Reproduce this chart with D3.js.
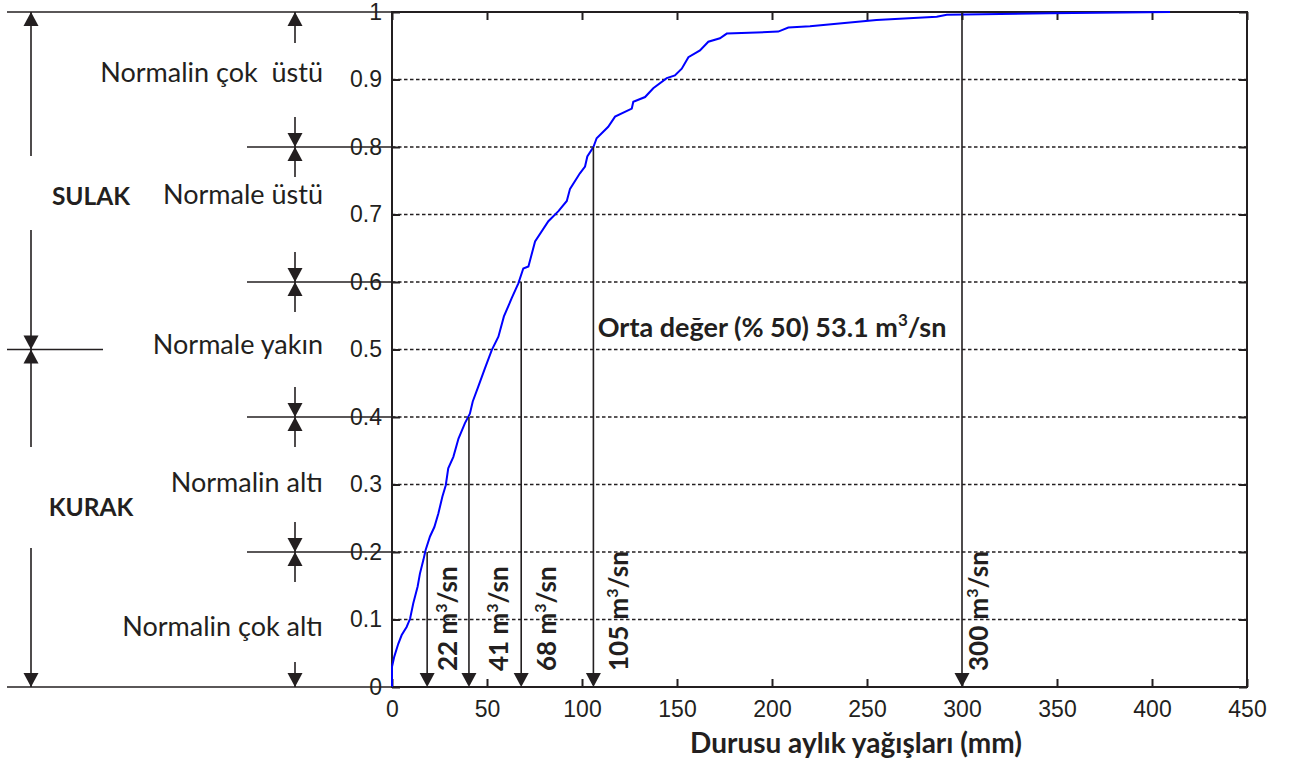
<!DOCTYPE html>
<html>
<head>
<meta charset="utf-8">
<script src="https://cdn.jsdelivr.net/npm/d3@7"></script>
<style>
  body { margin: 0; background: #fff; }
  text { fill: #231f20; }
</style>
</head>
<body>
<svg id="chart" width="1290" height="766"></svg>
<script>
const rainMm = [0, 0, 0, 1.2, 3.3, 5.1, 7.7, 9.5, 11.2, 13.5, 14.7, 16.5, 17.7, 20, 22.3, 24.4,
  26.5, 28.3, 29.6, 32.3, 35, 38.4, 41, 42.5, 45.4, 48.9, 52.5, 56, 58.9, 63, 66.5, 69.1, 71.8,
  75.3, 82.3, 87.6, 92, 93.7, 98.9, 101.6, 102.8, 106, 107.7, 113.8, 117.4, 126.2, 127, 133.2,
  137.5, 144.6, 148.9, 152.5, 156, 162.1, 166.5, 172.6, 176.2, 203.3, 208.6, 220, 255, 286.7,
  292, 346, 409.5];
const cumProb = [0, 0.013, 0.03, 0.045, 0.064, 0.077, 0.089, 0.101, 0.124, 0.149, 0.168, 0.188,
  0.203, 0.223, 0.237, 0.257, 0.282, 0.299, 0.324, 0.341, 0.368, 0.391, 0.405, 0.423, 0.445,
  0.472, 0.499, 0.519, 0.549, 0.576, 0.598, 0.62, 0.623, 0.66, 0.69, 0.705, 0.72, 0.738, 0.761,
  0.771, 0.786, 0.8, 0.813, 0.83, 0.845, 0.857, 0.867, 0.874, 0.887, 0.902, 0.906, 0.916, 0.933,
  0.943, 0.956, 0.961, 0.968, 0.971, 0.977, 0.979, 0.988, 0.993, 0.996, 0.998, 1.0];

const xTicks = [0, 50, 100, 150, 200, 250, 300, 350, 400, 450];
const yTicks = [0, 0.1, 0.2, 0.3, 0.4, 0.5, 0.6, 0.7, 0.8, 0.9, 1];
const gridLevels = [0.1, 0.2, 0.3, 0.4, 0.5, 0.6, 0.7, 0.8, 0.9];

// drop lines from the curve to the x axis
const markerLevels = [0.2, 0.4, 0.6, 0.8, 1.0];
const markerMm = [18.5, 40.5, 68, 106, 300];
const markerLabels = ["22", "41", "68", "105", "300"];
const markerLabelMm = [34, 61, 86.5, 124, 313.5];

// class bands on the left
const bandNames = ["Normalin çok  üstü", "Normale üstü", "Normale yakın", "Normalin altı", "Normalin çok altı"];
const bandLabelAt = [0.91, 0.73, 0.508, 0.304, 0.09];
const bandBounds = [0.8, 0.6, 0.4, 0.2];
const groupNames = ["SULAK", "KURAK"];
const groupLabelAt = [0.727, 0.267];

const ink = "#231f20";
const calibriLike = "Lato, 'Open Sans', sans-serif";
const arialLike = "'Liberation Sans', Arial, sans-serif";

const svg = d3.select("#chart");
const plotLeft = 392, plotRight = 1247, plotTop = 12, plotBottom = 687;

const x = d3.scaleLinear().domain([0, 450]).range([plotLeft, plotRight]);
const y = d3.scaleLinear().domain([0, 1]).range([plotBottom, plotTop]);

function arrowHead(g, px, py, dir) {
  // tip at (px, py), dir = 1 points down, -1 points up
  const w = 7.5, h = 14;
  g.append("path")
    .attr("d", `M${px},${py}L${px - w},${py - dir * h}L${px + w},${py - dir * h}Z`)
    .attr("fill", ink);
}

function vline(g, px, y1, y2) {
  g.append("line")
    .attr("x1", px).attr("x2", px)
    .attr("y1", y1).attr("y2", y2)
    .attr("stroke", ink).attr("stroke-width", 1.6);
}

function hline(g, x1, x2, py) {
  g.append("line")
    .attr("x1", x1).attr("x2", x2)
    .attr("y1", py).attr("y2", py)
    .attr("stroke", ink).attr("stroke-width", 1.6);
}

// dotted grid
svg.append("g")
  .selectAll("line")
  .data(gridLevels)
  .enter()
  .append("line")
  .attr("x1", plotLeft).attr("x2", plotRight)
  .attr("y1", d => y(d)).attr("y2", d => y(d))
  .attr("stroke", ink)
  .attr("stroke-width", 1.5)
  .attr("stroke-dasharray", "3.5,2.5");

// axes with inward ticks
const xAxis = svg.append("g")
  .attr("transform", `translate(0,${plotBottom})`)
  .call(d3.axisBottom(x).tickValues(xTicks).tickSizeInner(-8).tickSizeOuter(0).tickPadding(14));
const yAxis = svg.append("g")
  .attr("transform", `translate(${plotLeft},0)`)
  .call(d3.axisLeft(y).tickValues(yTicks).tickFormat(d3.format("")).tickSizeInner(-8).tickSizeOuter(0).tickPadding(10));
svg.append("g")
  .attr("transform", `translate(0,${plotTop})`)
  .call(d3.axisTop(x).tickValues(xTicks).tickSizeInner(-8).tickSizeOuter(0).tickFormat(""));
svg.append("g")
  .attr("transform", `translate(${plotRight},0)`)
  .call(d3.axisRight(y).tickValues(yTicks).tickSizeInner(-8).tickSizeOuter(0).tickFormat(""));

svg.selectAll(".domain").remove();
svg.selectAll(".tick line").attr("stroke", ink).attr("stroke-width", 2);
[xAxis, yAxis].forEach(a => a.selectAll("text")
  .attr("font-family", arialLike)
  .attr("font-size", 23)
  .attr("fill", ink));

svg.append("rect")
  .attr("x", plotLeft).attr("y", plotTop)
  .attr("width", plotRight - plotLeft).attr("height", plotBottom - plotTop)
  .attr("fill", "none")
  .attr("stroke", ink)
  .attr("stroke-width", 2);

// the distribution curve
const points = rainMm.map((d, i) => [d, cumProb[i]]);
svg.append("path")
  .datum(points)
  .attr("fill", "none")
  .attr("stroke", "#0000ff")
  .attr("stroke-width", 2)
  .attr("d", d3.line().x(d => x(d[0])).y(d => y(d[1])));

// drop lines with arrows and rotated labels
const drops = svg.append("g");
markerMm.forEach((m, i) => {
  vline(drops, x(m), y(markerLevels[i]), plotBottom - 2);
  arrowHead(drops, x(m), plotBottom, 1);
  const t = drops.append("text")
    .attr("transform", `translate(${x(markerLabelMm[i])},${plotBottom - 16}) rotate(-90)`)
    .attr("font-family", calibriLike)
    .attr("font-weight", "bold")
    .attr("font-size", 26);
  t.append("tspan").text(markerLabels[i] + " m");
  t.append("tspan").attr("dy", -10).attr("font-size", 16).text("3");
  t.append("tspan").attr("dy", 10).text("/sn");
});

const median = svg.append("text")
  .attr("x", x(108.3))
  .attr("y", y(0.518))
  .attr("font-family", calibriLike)
  .attr("font-weight", "bold")
  .attr("font-size", 27);
median.append("tspan").text("Orta değer (% 50) 53.1 m");
median.append("tspan").attr("dy", -11).attr("font-size", 17).text("3");
median.append("tspan").attr("dy", 11).text("/sn");

// x axis title
svg.append("text")
  .attr("x", 856)
  .attr("y", 753)
  .attr("text-anchor", "middle")
  .attr("font-family", calibriLike)
  .attr("font-weight", "bold")
  .attr("font-size", 28)
  .text("Durusu aylık yağışları (mm)");

// left side class annotation
const notes = svg.append("g");
const outerX = 31, innerX = 295;

hline(notes, 7, plotLeft, y(1));
hline(notes, 7, plotLeft, y(0));
hline(notes, 7, 103, y(0.5));
bandBounds.forEach(b => {
  hline(notes, 247, plotLeft, y(b));
  vline(notes, innerX, y(b) - 30, y(b));
  arrowHead(notes, innerX, y(b), 1);
  vline(notes, innerX, y(b), y(b) + 30);
  arrowHead(notes, innerX, y(b), -1);
});
vline(notes, innerX, y(1), y(1) + 31);
arrowHead(notes, innerX, y(1), -1);
vline(notes, innerX, y(0) - 25, y(0));
arrowHead(notes, innerX, y(0), 1);

vline(notes, outerX, y(1), 156);
arrowHead(notes, outerX, y(1), -1);
vline(notes, outerX, 230, y(0.5));
arrowHead(notes, outerX, y(0.5), 1);
vline(notes, outerX, y(0.5), 447);
arrowHead(notes, outerX, y(0.5), -1);
vline(notes, outerX, 548, y(0));
arrowHead(notes, outerX, y(0), 1);

notes.selectAll(".band")
  .data(bandNames)
  .enter()
  .append("text")
  .attr("class", "band")
  .attr("x", 323)
  .attr("y", (d, i) => y(bandLabelAt[i]))
  .attr("dy", "0.36em")
  .attr("text-anchor", "end")
  .attr("font-family", calibriLike)
  .attr("font-size", 27)
  .style("white-space", "pre")
  .text(d => d);

notes.selectAll(".group")
  .data(groupNames)
  .enter()
  .append("text")
  .attr("class", "group")
  .attr("x", 91)
  .attr("y", (d, i) => y(groupLabelAt[i]))
  .attr("dy", "0.36em")
  .attr("text-anchor", "middle")
  .attr("font-family", calibriLike)
  .attr("font-weight", "bold")
  .attr("font-size", 24.5)
  .text(d => d);
</script>
</body>
</html>
